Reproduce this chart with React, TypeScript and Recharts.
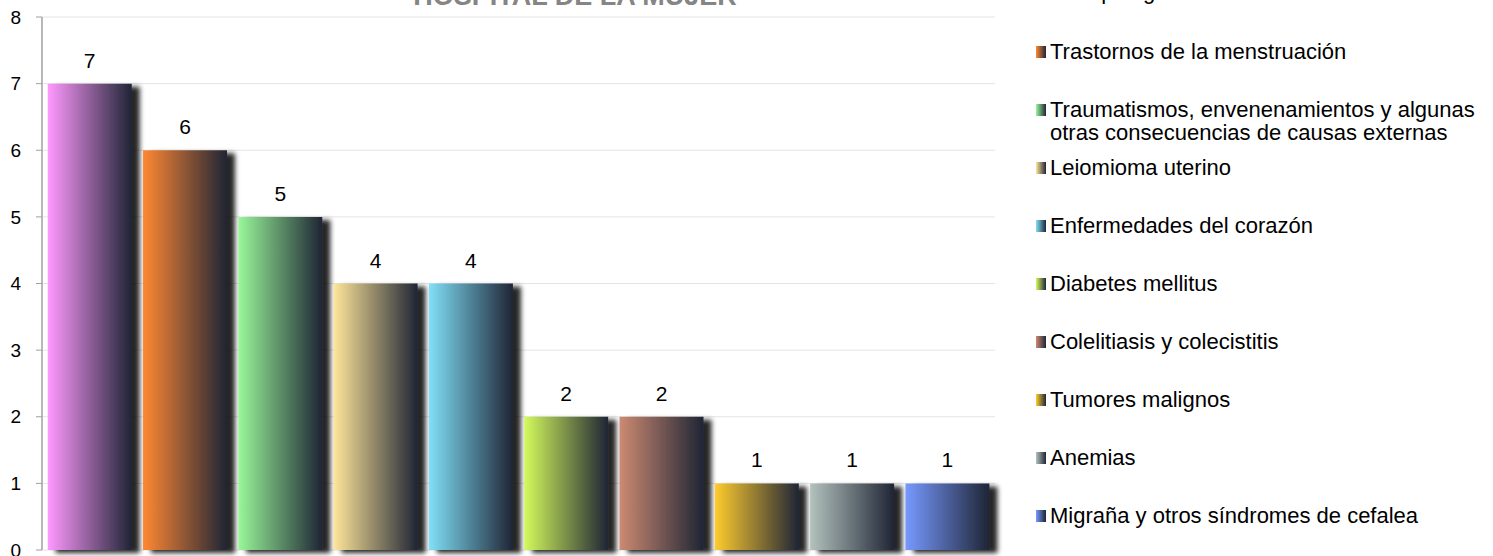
import React from "react";
import {
  BarChart,
  Bar,
  XAxis,
  YAxis,
  CartesianGrid,
  Cell,
  LabelList,
} from "recharts";

const categories = [
  "Prolapso genital femenino",
  "Trastornos de la menstruación",
  "Traumatismos, envenenamientos y algunas otras consecuencias de causas externas",
  "Leiomioma uterino",
  "Enfermedades del corazón",
  "Diabetes mellitus",
  "Colelitiasis y colecistitis",
  "Tumores malignos",
  "Anemias",
  "Migraña y otros síndromes de cefalea",
];

const values = [7, 6, 5, 4, 4, 2, 2, 1, 1, 1];

const yTicks = [0, 1, 2, 3, 4, 5, 6, 7, 8];

const COLORS = [
  "#ff99ff",
  "#ff8833",
  "#99f799",
  "#ffe699",
  "#80e0f8",
  "#d4fa5c",
  "#cc8a72",
  "#ffcc2e",
  "#b3c2bd",
  "#7799ff",
];

const DARK = "#1f2535";
const FONT = "'Liberation Sans', Arial, sans-serif";

const data = categories.map((name, i) => ({ name, value: values[i] }));

function LegendList() {
  return (
    <div
      style={{
        position: "absolute",
        left: 1036,
        top: -20,
        width: 457,
        fontFamily: FONT,
        fontSize: 22,
        color: "#000",
      }}
    >
      {categories.map((name, i) => (
        <div
          key={name}
          style={{
            height: i === 0 ? 60 : 58,
            display: "flex",
            alignItems: "flex-start",
            lineHeight: "23px",
          }}
        >
          <span
            style={{
              width: 10,
              height: 12,
              marginTop: 6,
              marginRight: 4,
              flex: "none",
              background: `linear-gradient(to right, ${COLORS[i]}, ${DARK})`,
            }}
          />
          <span style={{ width: 436 }}>{name}</span>
        </div>
      ))}
    </div>
  );
}

export default function App() {
  return (
    <div style={{ position: "absolute", left: 0, top: 0, width: 1493, height: 556, overflow: "hidden" }}>
      <BarChart
        width={1493}
        height={556}
        data={data}
        margin={{ top: 17, right: 498, bottom: 6, left: 0 }}
        barCategoryGap="6%"
      >
        <defs>
          {COLORS.map((c, i) => (
            <linearGradient key={c} id={`g${i}`} x1="0" y1="0" x2="1" y2="0">
              <stop offset="0%" stopColor={c} />
              <stop offset="100%" stopColor={DARK} />
            </linearGradient>
          ))}
          <filter id="shadow" x="-20%" y="-10%" width="150%" height="130%">
            <feDropShadow dx="8" dy="3" stdDeviation="2.5" floodColor="#000" floodOpacity="0.85" />
          </filter>
        </defs>
        <CartesianGrid vertical={false} stroke="#e4e4e4" />
        <XAxis
          dataKey="name"
          tick={false}
          height={0}
          axisLine={{ stroke: "#8c8c8c", strokeWidth: 1.5 }}
          tickLine={false}
        />
        <YAxis
          width={42}
          domain={[0, 8]}
          ticks={yTicks}
          interval={0}
          tickSize={6}
          tickMargin={15}
          axisLine={{ stroke: "#a0a0a0", strokeWidth: 1.5 }}
          tickLine={{ stroke: "#a0a0a0" }}
          tick={{ fill: "#000", fontSize: 19, fontFamily: FONT }}
        />
        <YAxis
          yAxisId="r"
          orientation="right"
          width={0}
          domain={[0, 8]}
          tick={false}
          tickLine={false}
          axisLine={{ stroke: "#dcdcdc" }}
        />
        <Bar dataKey="value" isAnimationActive={false} filter="url(#shadow)">
          {data.map((d, i) => (
            <Cell key={d.name} fill={`url(#g${i})`} />
          ))}
          <LabelList
            dataKey="value"
            position="top"
            offset={16}
            fill="#000"
            fontSize={21}
            fontFamily={FONT}
          />
        </Bar>
      </BarChart>
      <LegendList />
      <svg
        width={1493}
        height={30}
        style={{ position: "absolute", left: 0, top: 0, pointerEvents: "none" }}
      >
        <text
          x={575}
          y={5}
          textAnchor="middle"
          fontFamily={FONT}
          fontWeight="bold"
          fontSize={27}
          fill="#858585"
        >
          HOSPITAL DE LA MUJER
        </text>
      </svg>
    </div>
  );
}
